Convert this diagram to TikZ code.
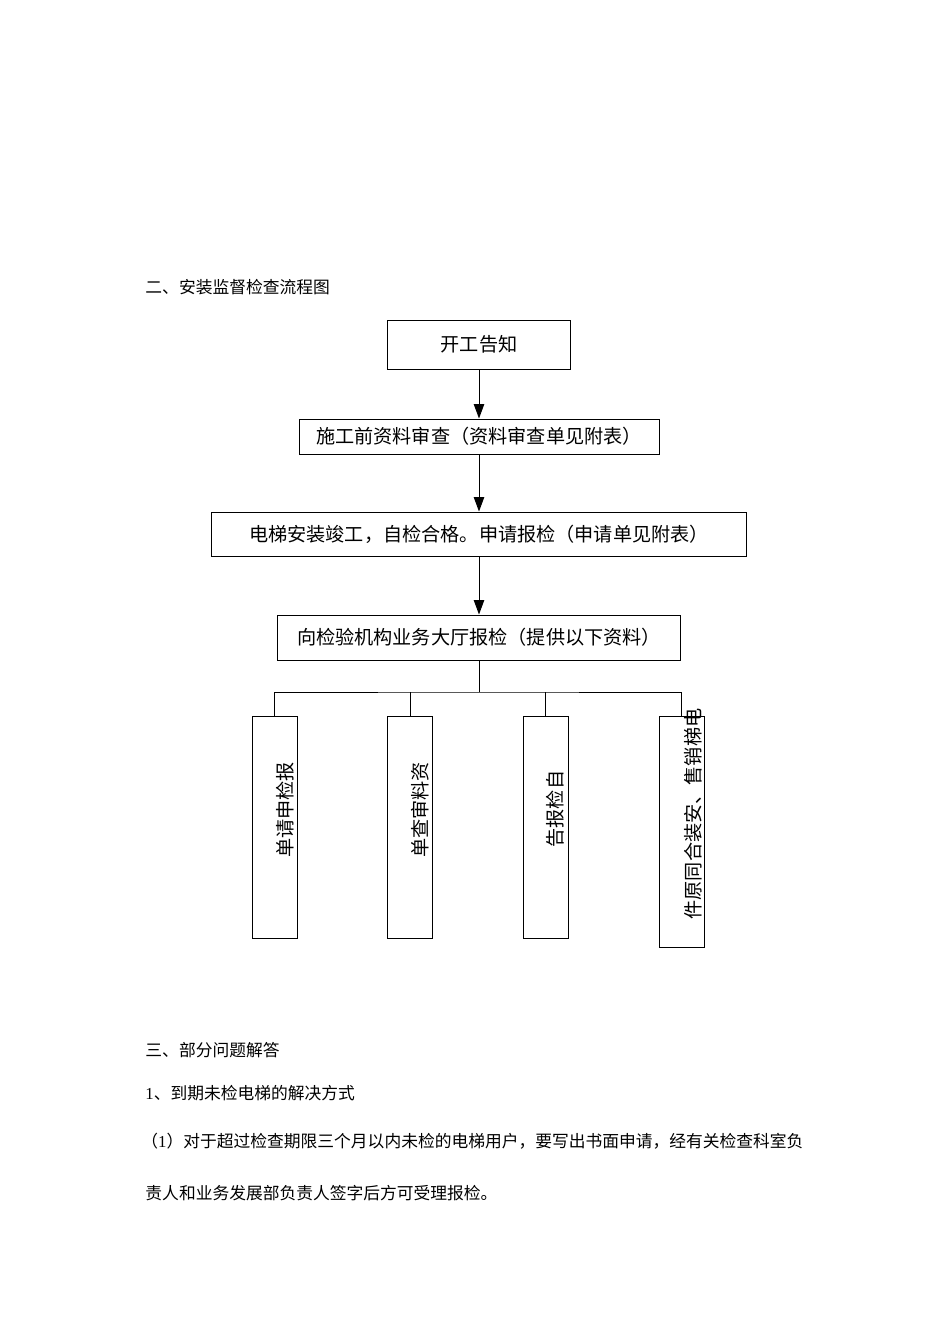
\documentclass[tikz,border=0pt]{standalone}
\usepackage{fontspec}
\setmainfont{Liberation Serif}
\newfontfamily\cjk{Noto Sans CJK SC}
\usetikzlibrary{arrows.meta}
\newcommand{\pxu}{0.6265pt}

\begin{document}
\begin{tikzpicture}[x=0.6265pt,y=-0.6265pt,line width=0.6pt]
\tikzstyle{box}=[draw, rectangle, inner sep=0pt, font=\cjk\fontsize{12}{14}\selectfont]
\tikzstyle{slim}=[draw, rectangle, inner sep=0pt, minimum width=45*\pxu]
\tikzstyle{vtext}=[rotate=90, inner sep=0pt, font=\cjk\fontsize{12}{14}\selectfont]
\tikzstyle{plain}=[anchor=west, inner sep=0pt, font=\cjk\fontsize{10.5}{12}\selectfont]
\tikzstyle{arr}=[-{Triangle[length=9pt,width=6.5pt]}]

\useasboundingbox (0,0) rectangle (950,1344);

\node (title) [plain] at (145,287) {二、安装监督检查流程图};

\node (start) at (479,344.5) [box, minimum width=183*\pxu, minimum height=49*\pxu] {开工告知};
\node (review) at (479,436.5) [box, minimum width=360*\pxu, minimum height=35*\pxu] {施工前资料审查（资料审查单见附表）};
\node (done) at (479,534) [box, minimum width=535*\pxu, minimum height=44*\pxu] {电梯安装竣工，自检合格。申请报检（申请单见附表）};
\node (hall) at (479,637.5) [box, minimum width=403*\pxu, minimum height=45*\pxu] {向检验机构业务大厅报检（提供以下资料）};

\draw[arr] (start) -- (review);
\draw[arr] (review) -- (done);
\draw[arr] (done) -- (hall);

\coordinate (bus) at (479,692);

\node (formA) at (274.5,827) [slim, minimum height=222*\pxu] {};
\node (formB) at (410,827) [slim, minimum height=222*\pxu] {};
\node (formC) at (545.5,827) [slim, minimum height=222*\pxu] {};
\node (formD) at (681.5,831.5) [slim, minimum height=231*\pxu] {};

\node (textA) [vtext] at (285,810) {单请申检报};
\node (textB) [vtext] at (420,810) {单查审料资};
\node (textC) [vtext] at (555,809) {告报检自};
\node (textD) [vtext] at (693,814) {件原同合装安、售销梯电};

\draw (hall) -- (bus);
\draw (formA.north) |- (bus) -| (formD.north);
\draw (formB.north) -- (formB.north |- bus);
\draw (formC.north) -- (formC.north |- bus);

\node (part3) [plain] at (145,1050) {三、部分问题解答};
\node (q1) [plain] at (145,1093) {{\normalfont 1}、到期未检电梯的解决方式};
\node (ans1) [plain] at (141,1141) {（{\normalfont 1}）对于超过检查期限三个月以内未检的电梯用户，要写出书面申请，经有关检查科室负};
\node (ans1b) [plain] at (145,1193) {责人和业务发展部负责人签字后方可受理报检。};

\end{tikzpicture}
\end{document}
